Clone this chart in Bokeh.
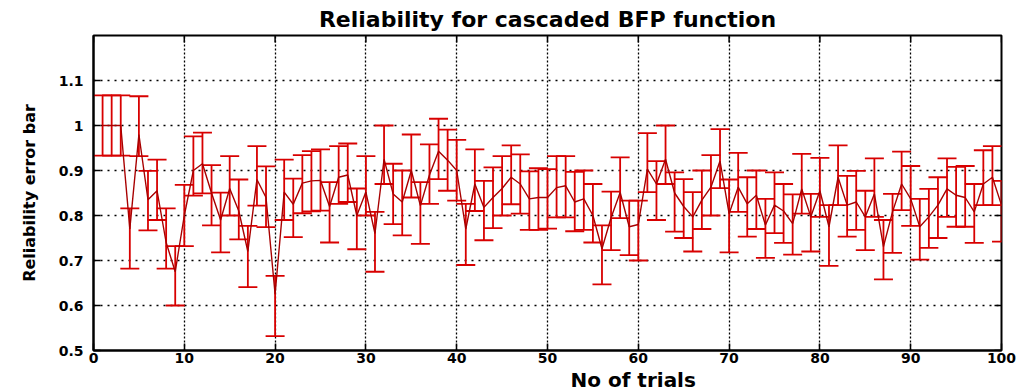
from bokeh.plotting import figure
from bokeh.models import (ColumnDataSource, Whisker, TeeHead, FixedTicker,
                          Title, Range1d)
from bokeh.embed import file_html
from bokeh.resources import INLINE

# ---------------- data ----------------
title_text = "Reliability for cascaded BFP function"
x_label_text = "No of trials"
y_label_text = "Reliability error bar"

trials = [1, 2, 3, 4, 5, 6, 7, 8, 9, 10,
          11, 12, 13, 14, 15, 16, 17, 18, 19, 20,
          21, 22, 23, 24, 25, 26, 27, 28, 29, 30,
          31, 32, 33, 34, 35, 36, 37, 38, 39, 40,
          41, 42, 43, 44, 45, 46, 47, 48, 49, 50,
          51, 52, 53, 54, 55, 56, 57, 58, 59, 60,
          61, 62, 63, 64, 65, 66, 67, 68, 69, 70,
          71, 72, 73, 74, 75, 76, 77, 78, 79, 80,
          81, 82, 83, 84, 85, 86, 87, 88, 89, 90,
          91, 92, 93, 94, 95, 96, 97, 98, 99, 100]

reliability_mean = [
    1.000, 1.000, 1.000, 0.770, 0.980, 0.835, 0.855, 0.740, 0.675, 0.800,
    0.900, 0.915, 0.850, 0.790, 0.860, 0.810, 0.720, 0.880, 0.840, 0.625,
    0.852, 0.825, 0.872, 0.877, 0.878, 0.820, 0.885, 0.890, 0.800, 0.852,
    0.760, 0.925, 0.848, 0.830, 0.900, 0.822, 0.890, 0.943, 0.923, 0.900,
    0.770, 0.870, 0.818, 0.840, 0.860, 0.885, 0.870, 0.837, 0.840, 0.840,
    0.862, 0.866, 0.830, 0.837, 0.800, 0.726, 0.795, 0.851, 0.775, 0.780,
    0.903, 0.870, 0.925, 0.850, 0.820, 0.797, 0.834, 0.863, 0.921, 0.804,
    0.863, 0.826, 0.845, 0.779, 0.823, 0.810, 0.782, 0.859, 0.797, 0.855,
    0.775, 0.885, 0.823, 0.830, 0.797, 0.848, 0.731, 0.808, 0.870, 0.837,
    0.775, 0.797, 0.823, 0.859, 0.845, 0.840, 0.808, 0.870, 0.885, 0.823]

reliability_lower = [
    0.933, 0.933, 0.933, 0.682, 0.932, 0.767, 0.790, 0.682, 0.600, 0.732,
    0.844, 0.849, 0.778, 0.718, 0.800, 0.747, 0.641, 0.822, 0.774, 0.532,
    0.790, 0.752, 0.805, 0.809, 0.811, 0.740, 0.826, 0.830, 0.725, 0.800,
    0.675, 0.870, 0.781, 0.756, 0.840, 0.737, 0.826, 0.881, 0.855, 0.833,
    0.690, 0.810, 0.745, 0.772, 0.800, 0.825, 0.804, 0.768, 0.768, 0.771,
    0.796, 0.796, 0.765, 0.768, 0.740, 0.647, 0.723, 0.794, 0.712, 0.700,
    0.852, 0.790, 0.870, 0.764, 0.750, 0.720, 0.770, 0.800, 0.861, 0.718,
    0.808, 0.753, 0.770, 0.706, 0.761, 0.739, 0.713, 0.804, 0.720, 0.797,
    0.688, 0.823, 0.753, 0.768, 0.723, 0.797, 0.658, 0.717, 0.812, 0.777,
    0.702, 0.728, 0.750, 0.797, 0.775, 0.775, 0.739, 0.823, 0.823, 0.742]

reliability_upper = [
    1.067, 1.067, 1.067, 0.816, 1.065, 0.899, 0.924, 0.816, 0.732, 0.868,
    0.976, 0.984, 0.912, 0.851, 0.932, 0.880, 0.777, 0.954, 0.909, 0.666,
    0.924, 0.882, 0.934, 0.943, 0.947, 0.874, 0.954, 0.960, 0.860, 0.932,
    0.808, 1.000, 0.915, 0.900, 0.980, 0.874, 0.958, 1.015, 0.991, 0.968,
    0.826, 0.947, 0.877, 0.907, 0.932, 0.956, 0.936, 0.898, 0.905, 0.903,
    0.932, 0.932, 0.897, 0.900, 0.870, 0.778, 0.853, 0.929, 0.833, 0.833,
    0.983, 0.921, 1.000, 0.896, 0.881, 0.852, 0.900, 0.934, 0.992, 0.880,
    0.939, 0.885, 0.900, 0.837, 0.896, 0.870, 0.847, 0.937, 0.848, 0.928,
    0.823, 0.956, 0.888, 0.899, 0.855, 0.927, 0.790, 0.848, 0.942, 0.910,
    0.837, 0.859, 0.885, 0.927, 0.908, 0.910, 0.870, 0.945, 0.954, 0.877]

x_ticks = [0, 10, 20, 30, 40, 50, 60, 70, 80, 90, 100]
y_ticks = [0.5, 0.6, 0.7, 0.8, 0.9, 1.0, 1.1]
y_tick_labels = ["0.5", "0.6", "0.7", "0.8", "0.9", "1", "1.1"]

# ---------------- styling ----------------
BAR = "#d80000"
LINE = "#a80000"
FONT = "DejaVu Sans"
X_MIN, X_MAX, Y_MIN, Y_MAX = 0, 100, 0.5, 1.2

src = ColumnDataSource(dict(x=trials, mean=reliability_mean,
                            lower=reliability_lower, upper=reliability_upper))

p = figure(width=1030, height=392,
           title=Title(text=title_text, align="center", text_font=FONT,
                       text_font_style="bold", text_font_size="22px",
                       text_color="black", standoff=7),
           x_range=Range1d(X_MIN, X_MAX), y_range=Range1d(Y_MIN, Y_MAX),
           output_backend="svg", toolbar_location=None,
           min_border_left=93, min_border_right=29,
           min_border_top=35, min_border_bottom=42)
p.background_fill_color = "white"
p.border_fill_color = "white"
p.outline_line_color = "black"
p.outline_line_width = 2

# grids
p.xgrid.ticker = FixedTicker(ticks=x_ticks)
p.ygrid.ticker = FixedTicker(ticks=y_ticks)
p.xgrid.grid_line_color = "black"
p.xgrid.grid_line_dash = "2 2"
p.xgrid.grid_line_width = 1.3
p.ygrid.grid_line_color = "black"
p.ygrid.grid_line_dash = "2 5"
p.ygrid.grid_line_width = 1.3

def style_axis(ax):
    ax.axis_line_color = "black"
    ax.axis_line_width = 2
    ax.major_tick_in = 7
    ax.major_tick_out = 0
    ax.major_tick_line_width = 1.5
    ax.major_tick_line_color = "black"
    ax.minor_tick_line_color = None
    ax.major_label_text_font = FONT
    ax.major_label_text_font_style = "bold"
    ax.major_label_text_font_size = "14px"
    ax.major_label_text_color = "black"

xa = p.xaxis[0]
style_axis(xa)
xa.ticker = FixedTicker(ticks=x_ticks)
xa.major_label_standoff = 2

ya = p.yaxis[0]
style_axis(ya)
ya.ticker = FixedTicker(ticks=y_ticks)
ya.major_label_overrides = dict(zip(y_ticks, y_tick_labels))
ya.major_label_standoff = 10
ya.axis_label = y_label_text
ya.axis_label_text_font = FONT
ya.axis_label_text_font_style = "bold"
ya.axis_label_text_font_size = "16px"
ya.axis_label_text_color = "black"
ya.axis_label_standoff = 17

# x axis label, placed right of centre as in the reference
p.add_layout(Title(text=x_label_text, align="left", offset=477, standoff=0,
                   text_font=FONT, text_font_style="bold",
                   text_font_size="20px", text_color="black"), "below")

# inward tick marks on the top and right edges of the box
p.scatter(x=x_ticks, y=[Y_MAX] * len(x_ticks), marker="dash", size=14,
          angle=1.5708, line_color="black", line_width=1.5)
p.scatter(x=[X_MAX] * len(y_ticks), y=y_ticks, marker="dash", size=14,
          line_color="black", line_width=1.5)

# error bars
whisk = Whisker(source=src, base="x", upper="upper", lower="lower",
                line_color=BAR, line_width=1.8,
                upper_head=TeeHead(size=19, line_color=BAR, line_width=1.8),
                lower_head=TeeHead(size=19, line_color=BAR, line_width=1.8))
p.add_layout(whisk)

# mean line
p.line("x", "mean", source=src, line_color=LINE, line_width=1.4)

open("out.html", "w").write(file_html(p, INLINE))
